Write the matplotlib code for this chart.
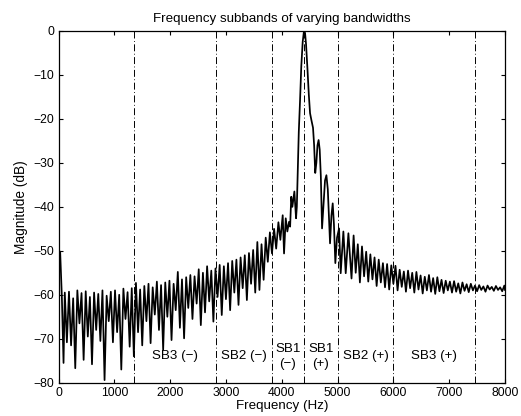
import numpy as np
import matplotlib
matplotlib.use("Agg")
import matplotlib.pyplot as plt

# low-frequency start (Hz, dB)
head_freq = [0, 30, 60, 90]
head_mag = [-49.8, -50.3, -60.5, -75.5]

# noise floor below the tone: alternating peaks / troughs every 37.5 Hz
lo_freq = np.arange(112.5, 3900, 37.5)
lo_peaks = [-59.5, -59.3, -60.8, -59.0, -59.6, -59.2, -60.5, -59.5, -59.8, -59.0,
            -60.2, -59.3, -59.0, -60.0, -58.6, -59.4, -58.5, -57.3, -58.8, -58.0,
            -57.5, -58.3, -57.0, -57.8, -57.2, -56.8, -57.5, -54.8, -56.5, -56.0,
            -55.5, -55.8, -54.2, -55.0, -53.5, -54.5, -54.0, -53.2, -53.5, -52.8,
            -52.3, -52.0, -51.5, -51.0, -50.5, -49.8, -48.0, -48.5, -47.0, -45.8,
            -45.0]
lo_troughs = [-70.8, -71.5, -76.7, -66.5, -74.8, -69.5, -75.8, -68.0, -70.5, -79.4,
              -66.0, -70.8, -68.5, -77.0, -65.5, -71.8, -74.0, -68.5, -71.5, -66.0,
              -71.0, -64.5, -68.0, -72.5, -65.0, -70.3, -63.5, -67.5, -69.9, -63.0,
              -65.5, -62.0, -66.9, -64.0, -61.5, -66.1, -60.5, -64.6, -61.0, -63.5,
              -59.5, -62.3, -58.5, -61.2, -57.5, -59.5, -58.9, -56.6, -52.5, -50.6]

# tone region around 4400 Hz
tone_freq = [3900, 3940, 3975, 4017, 4041, 4071, 4100, 4131, 4150, 4170,
             4190, 4226, 4256, 4270, 4286, 4305, 4328, 4350, 4375, 4395,
             4405, 4418, 4435, 4460, 4485, 4507, 4530, 4560, 4580, 4600,
             4620, 4640, 4660, 4680, 4700, 4722, 4745, 4775, 4800, 4825,
             4850, 4865, 4890, 4913, 4935, 4960, 4990, 5027, 5056, 5104,
             5146, 5194]
tone_mag = [-49.5, -43.5, -47.5, -41.9, -50.6, -42.6, -45.6, -43.4, -44.5, -37.7,
            -40.0, -36.5, -42.6, -40.0, -32.0, -23.0, -15.7, -8.0, -2.5, -0.3,
            0.0, -0.5, -3.0, -8.5, -14.5, -18.7, -20.2, -22.0, -26.0, -32.3,
            -30.0, -26.0, -24.8, -27.0, -33.0, -44.9, -40.0, -34.0, -32.8, -36.0,
            -44.0, -48.3, -42.0, -39.2, -44.0, -52.8, -47.0, -44.9, -55.1, -45.6,
            -55.1, -46.0]

# noise floor above the tone: troughs / peaks every 37.5 Hz
hi_freq = np.arange(5250, 8000, 37.5)
hi_troughs = [-56.3, -55.0, -57.2, -55.8, -57.0, -56.5, -58.0, -57.2, -58.3, -58.8,
              -57.5, -59.0, -58.2, -59.3, -58.5, -59.5, -58.8, -59.7, -59.0, -59.3,
              -59.8, -59.2, -59.6, -59.0, -59.5, -59.3, -59.7, -59.1, -59.4, -59.0,
              -59.2, -58.9, -59.3, -58.8, -59.1, -58.9, -59.2]
hi_peaks = [-46.5, -48.5, -49.0, -50.2, -50.8, -51.5, -52.0, -52.8, -53.0, -53.3,
            -53.4, -54.3, -54.7, -54.5, -55.0, -54.8, -55.6, -55.9, -55.5, -56.2,
            -56.0, -56.6, -56.8, -57.0, -56.9, -57.4, -57.2, -57.6, -57.5, -57.9,
            -57.8, -58.1, -57.9, -58.2, -58.0, -58.3, -57.9]
end_freq = [8000]
end_mag = [-58.9]

# subband edges (Hz)
edges = [1350, 2820, 3820, 4400, 5000, 6000, 7470]
band_labels = ["SB3 (\u2212)", "SB2 (\u2212)", "SB1\n(\u2212)", "SB1\n(+)",
               "SB2 (+)", "SB3 (+)"]

lo_mag = np.empty(len(lo_freq))
lo_mag[0::2] = lo_peaks
lo_mag[1::2] = lo_troughs
hi_mag = np.empty(len(hi_freq))
hi_mag[0::2] = hi_troughs
hi_mag[1::2] = hi_peaks

freq = np.concatenate([head_freq, lo_freq, tone_freq, hi_freq, end_freq])
mag = np.concatenate([head_mag, lo_mag, tone_mag, hi_mag, end_mag])

plt.rcParams["font.family"] = ["Liberation Sans", "DejaVu Sans"]
plt.rcParams["font.size"] = 8.7
plt.rcParams["lines.scale_dashes"] = False

fig = plt.figure(figsize=(5.21, 4.16), dpi=100)
ax = fig.add_axes([0.1123, 0.080, 0.8570, 0.8455])

ax.plot(freq, mag, color="black", lw=1.25, zorder=3)

for e in edges:
    ax.axvline(e, color="black", lw=0.7, linestyle=(0, (5, 1.8, 0.6, 1.8)), zorder=2)

bounds = [edges[i:i + 2] for i in range(len(edges) - 1)]
for (a, b), lab in zip(bounds, band_labels):
    ax.text((a + b) / 2, -74, lab, ha="center", va="center",
            fontsize=9.6, linespacing=1.4)

ax.set_xlim(0, 8000)
ax.set_ylim(-80, 0)
ax.set_xticks(np.arange(0, 8001, 1000))
ax.set_yticks(np.arange(-80, 1, 10))
ax.tick_params(direction="in", length=3, width=0.8, top=True, right=True, pad=3)
for s in ax.spines.values():
    s.set_linewidth(0.9)

ax.set_title("Frequency subbands of varying bandwidths", fontsize=9.6, pad=6.5)
ax.set_xlabel("Frequency (Hz)", fontsize=9.6, labelpad=1)
ax.set_ylabel("Magnitude (dB)", fontsize=9.8, labelpad=4)

fig.savefig("out.png", dpi=100)
